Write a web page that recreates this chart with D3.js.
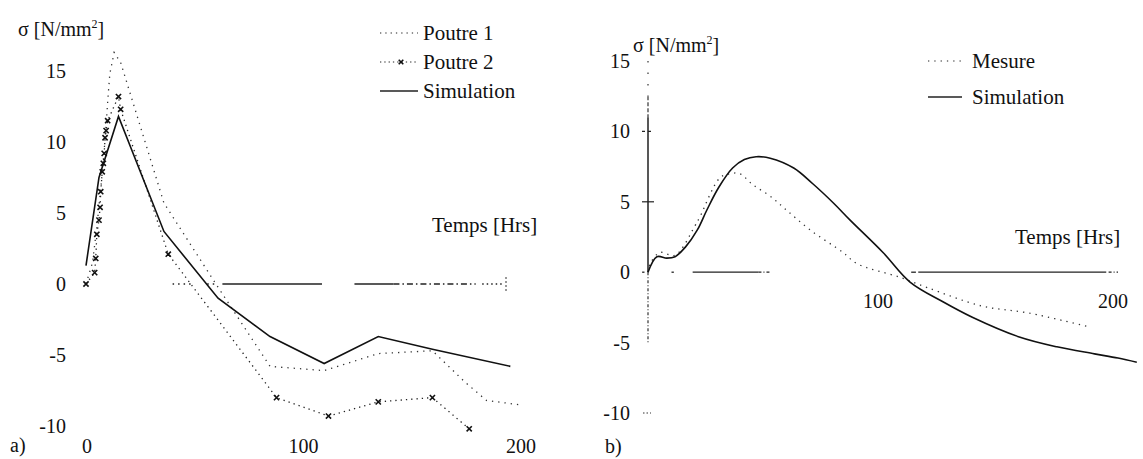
<!DOCTYPE html>
<html>
<head>
<meta charset="utf-8">
<script src="https://cdn.jsdelivr.net/npm/d3@7"></script>
<style>
body { margin: 0; background: #fff; }
text { fill: #111; font-family: "Liberation Serif", "Times New Roman", Times, "DejaVu Serif", serif; }
</style>
</head>
<body>
<div id="main"></div>
<script>
// ---- data (a) : poutres
var poutre1 = [[0,0],[3,1.5],[5,4],[7,7],[9,10.5],[10,12.8],[11,14.8],[13,16.3],[16,15.6],
			   [36,5.7],[60,0],[85,-5.8],[110,-6.1],[135,-4.9],[160,-4.7],[175,-6.9],[185,-8.2],[200,-8.5]];
var poutre2 = [[0,0],[4,0.8],[4.5,1.8],[5,3.5],[6,4.5],[6.5,5.4],[6.8,6.5],[7.5,7.9],[8,8.5],
			   [8.4,9.2],[8.8,10.3],[9.3,10.8],[10,11.5],[15,13.2],[16,12.3],[38,2.1],
			   [88,-8],[112,-9.3],[135,-8.3],[160,-8.0],[177,-10.2]];
var simA = [[0,1.3],[6,7.5],[15,11.8],[36,3.7],[61,-1.0],[85,-3.7],[110,-5.6],[135,-3.7],[160,-4.6],[196,-5.8]];

// ---- data (b) : mesure / simulation
var mesure = [[0,0],[1,0.6],[5,1.4],[11.5,1.2],[20,3.3],[22,3.9],[30.6,6.7],[35,7.0],[39,7.0],[44.7,6.2],
			  [52,5.4],[59,4.4],[69,3.0],[83,1.4],[89,0.6],[107,-0.35],[119,-1.1],[142,-2.4],[162,-2.9],[188,-3.9]];
var simB = [[0,0],[3.8,1.1],[8,1.0],[11.5,1.1],[16,1.8],[21,3.0],[25,4.4],[30,6.0],[36,7.4],[41,8.0],[46,8.2],
			[52,8.1],[62,7.4],[70,6.3],[79,4.9],[86,3.7],[100,1.4],[111.5,-0.7],[125.5,-2.1],[138,-3.2],
			[158,-4.6],[174,-5.3],[190,-5.8],[200,-6.1],[208,-6.4]];

var yTicks = [15, 10, 5, 0, -5, -10];
var xTicksA = [0, 100, 200];
var xTicksB = [100, 200];

var W = 1143, H = 459;
var svg = d3.select('#main').append('svg')
			.attr('width', W)
			.attr('height', H);

// ================= panel a =================
var xA = d3.scaleLinear().domain([0, 200]).range([86, 519]);
var yA = d3.scaleLinear().domain([-10, 15]).range([426, 71]);

var gA = svg.append('g');

// zero axis, broken like the scan
var zeroA = [[40, 49, '1.5,4'], [56, 60, '1.5,4'], [63, 109, null], [124, 142, null],
			 [142, 180, '6,3,1.5,3'], [183, 192, '1.5,3']];
zeroA.forEach(function(s){
	gA.append('line')
	  .attr('x1', xA(s[0])).attr('x2', xA(s[1]))
	  .attr('y1', yA(0)).attr('y2', yA(0))
	  .attr('stroke', '#222')
	  .attr('stroke-width', 1.3)
	  .attr('stroke-dasharray', s[2]);
});
gA.append('line')
  .attr('x1', xA(194)).attr('x2', xA(194))
  .attr('y1', yA(0) - 7).attr('y2', yA(0) + 7)
  .attr('stroke', '#333')
  .attr('stroke-dasharray', '2,2');

gA.selectAll('.ytA').data(yTicks).enter().append('text')
  .attr('x', 66).attr('y', function(d){ return yA(d); })
  .attr('dy', '0.35em')
  .attr('text-anchor', 'end')
  .attr('font-size', 20)
  .text(function(d){ return d; });

gA.selectAll('.xtA').data(xTicksA).enter().append('text')
  .attr('x', function(d){ return xA(d) + (d == 200 ? 2 : 1); })
  .attr('y', 446)
  .attr('dy', '0.35em')
  .attr('text-anchor', 'middle')
  .attr('font-size', 20)
  .text(function(d){ return d; });

var lineA = d3.line().x(function(d){ return xA(d[0]); }).y(function(d){ return yA(d[1]); });

gA.append('path').attr('d', lineA(poutre1))
  .attr('fill', 'none').attr('stroke', '#333').attr('stroke-width', 1.3)
  .attr('stroke-dasharray', '1.3,5');
gA.append('path').attr('d', lineA(poutre2))
  .attr('fill', 'none').attr('stroke', '#222').attr('stroke-width', 1.3)
  .attr('stroke-dasharray', '1.3,4');
gA.append('path').attr('d', lineA(simA))
  .attr('fill', 'none').attr('stroke', '#111').attr('stroke-width', 1.6);

function cross(g, x, y, r){
	g.append('path')
	 .attr('d', 'M' + (x - r) + ',' + (y - r) + 'L' + (x + r) + ',' + (y + r) +
				'M' + (x - r) + ',' + (y + r) + 'L' + (x + r) + ',' + (y - r))
	 .attr('stroke', '#111').attr('stroke-width', 1.6);
}
poutre2.forEach(function(d){ cross(gA, xA(d[0]), yA(d[1]), 2.6); });

// labels a
gA.append('text').attr('x', 18).attr('y', 36).attr('font-size', 20)
  .html('σ [N/mm<tspan dy="-8" font-size="12">2</tspan><tspan dy="8">]</tspan>');
gA.append('text').attr('x', 432).attr('y', 232).attr('font-size', 21).text('Temps [Hrs]');
gA.append('text').attr('x', 10).attr('y', 452).attr('font-size', 20).text('a)');

var legA = [['Poutre 1', '1.3,4', false], ['Poutre 2', '1.3,3', true], ['Simulation', null, false]];
legA.forEach(function(l, i){
	var ly = 33 + i * 29;
	gA.append('line').attr('x1', 380).attr('x2', 418).attr('y1', ly).attr('y2', ly)
	  .attr('stroke', '#222').attr('stroke-width', l[1] ? 1.2 : 1.5)
	  .attr('stroke-dasharray', l[1]);
	if (l[2]) cross(gA, 401, ly, 2.3);
	gA.append('text').attr('x', 423).attr('y', ly).attr('dy', '0.35em')
	  .attr('font-size', 21).text(l[0]);
});

// ================= panel b =================
var xB = d3.scaleLinear().domain([0, 200]).range([648, 1118]);
var yB = d3.scaleLinear().domain([-10, 15]).range([413, 61]);

var gB = svg.append('g');

// y axis
gB.append('line').attr('x1', xB(0)).attr('x2', xB(0))
  .attr('y1', yB(15)).attr('y2', yB(12.5))
  .attr('stroke', '#333').attr('stroke-width', 1.2).attr('stroke-dasharray', '1.5,10');
gB.append('line').attr('x1', xB(0)).attr('x2', xB(0))
  .attr('y1', yB(12.5)).attr('y2', yB(11))
  .attr('stroke', '#333').attr('stroke-width', 1.2).attr('stroke-dasharray', '4,2');
gB.append('line').attr('x1', xB(0)).attr('x2', xB(0))
  .attr('y1', yB(11)).attr('y2', yB(0))
  .attr('stroke', '#111').attr('stroke-width', 1.4);
gB.append('line').attr('x1', xB(0)).attr('x2', xB(0))
  .attr('y1', yB(0)).attr('y2', yB(-5))
  .attr('stroke', '#333').attr('stroke-width', 1.2).attr('stroke-dasharray', '3,2,1,2');
[10, 5].forEach(function(t){
	gB.append('line').attr('x1', xB(0) - 6).attr('x2', xB(0) + 6)
	  .attr('y1', yB(t)).attr('y2', yB(t))
	  .attr('stroke', '#222').attr('stroke-width', 1.2)
	  .attr('stroke-dasharray', t == 10 ? '3,3' : null);
});
gB.append('line').attr('x1', xB(0) - 5).attr('x2', xB(0) + 3)
  .attr('y1', yB(-10)).attr('y2', yB(-10))
  .attr('stroke', '#333').attr('stroke-dasharray', '1.5,2');

// zero axis b
var zeroB = [[-2.5, -1.5, null], [10, 11, null], [19, 47, null], [47, 52, '3,2,1,2'],
			 [112, 114, null], [115, 195, null], [196, 200, '3,2,1,2']];
zeroB.forEach(function(s){
	gB.append('line')
	  .attr('x1', xB(s[0])).attr('x2', xB(s[1]))
	  .attr('y1', yB(0)).attr('y2', yB(0))
	  .attr('stroke', '#222')
	  .attr('stroke-width', 1.3)
	  .attr('stroke-dasharray', s[2]);
});

gB.selectAll('.ytB').data(yTicks).enter().append('text')
  .attr('x', 630).attr('y', function(d){ return yB(d); })
  .attr('dy', '0.35em')
  .attr('text-anchor', 'end')
  .attr('font-size', 20)
  .text(function(d){ return d; });

gB.selectAll('.xtB').data(xTicksB).enter().append('text')
  .attr('x', function(d){ return xB(d) - 5; })
  .attr('y', 301)
  .attr('dy', '0.35em')
  .attr('text-anchor', 'middle')
  .attr('font-size', 20)
  .text(function(d){ return d; });

var lineB = d3.line().curve(d3.curveCatmullRom)
			  .x(function(d){ return xB(d[0]); }).y(function(d){ return yB(d[1]); });

gB.append('path').attr('d', lineB(mesure))
  .attr('fill', 'none').attr('stroke', '#333').attr('stroke-width', 1.3)
  .attr('stroke-dasharray', '1.3,5');
gB.append('path').attr('d', lineB(simB))
  .attr('fill', 'none').attr('stroke', '#111').attr('stroke-width', 1.6);

gB.append('text').attr('x', 633).attr('y', 52).attr('font-size', 20)
  .html('σ [N/mm<tspan dy="-8" font-size="12">2</tspan><tspan dy="8">]</tspan>');
gB.append('text').attr('x', 1015).attr('y', 244).attr('font-size', 21).text('Temps [Hrs]');
gB.append('text').attr('x', 605).attr('y', 453).attr('font-size', 20).text('b)');

var legB = [['Mesure', '1.3,5'], ['Simulation', null]];
legB.forEach(function(l, i){
	var ly = 61 + i * 36;
	gB.append('line').attr('x1', 928).attr('x2', 962).attr('y1', ly).attr('y2', ly)
	  .attr('stroke', '#222').attr('stroke-width', l[1] ? 1.2 : 1.6)
	  .attr('stroke-dasharray', l[1]);
	gB.append('text').attr('x', 972).attr('y', ly).attr('dy', '0.35em')
	  .attr('font-size', 21).text(l[0]);
});
</script>
</body>
</html>
